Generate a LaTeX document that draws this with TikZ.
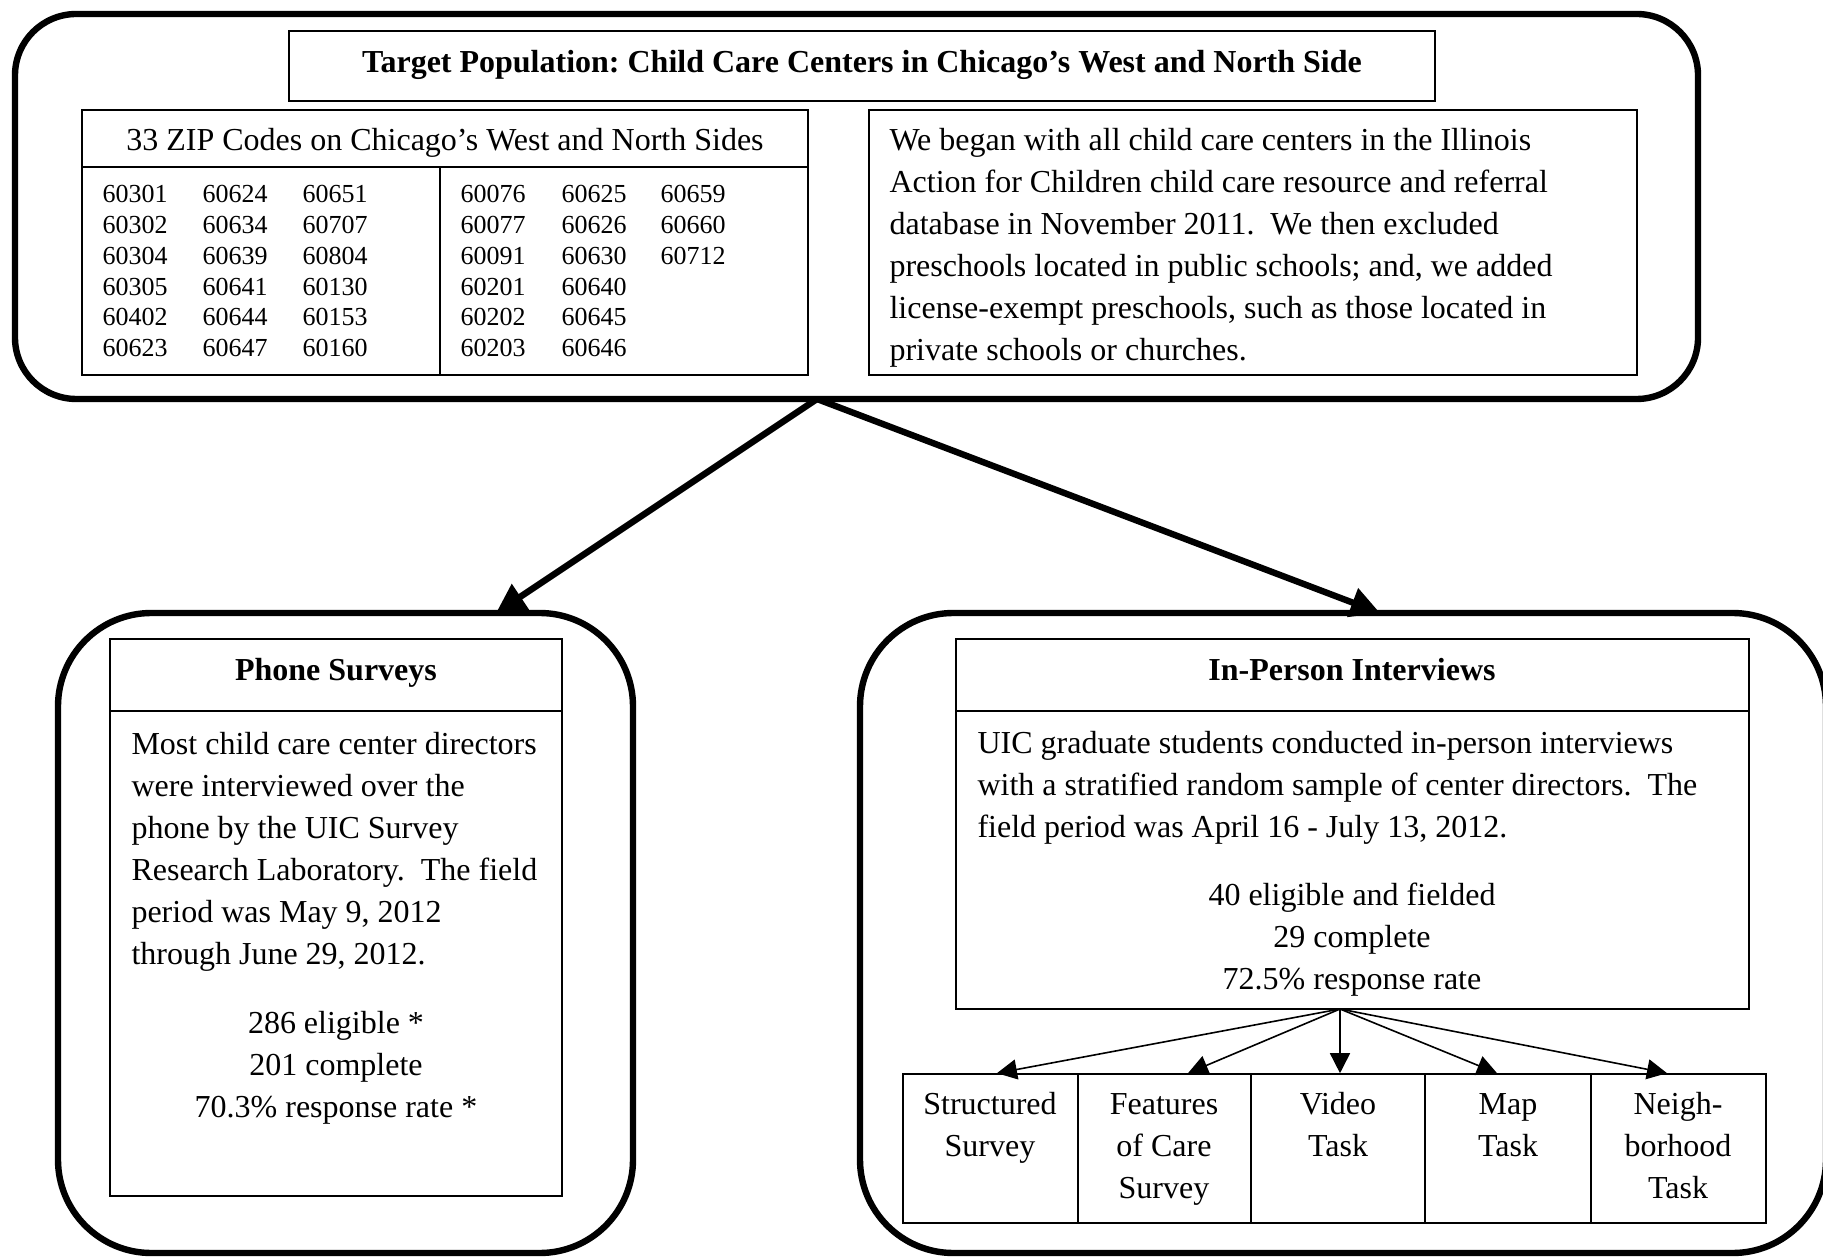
\documentclass[tikz,border=0pt]{standalone}
\usepackage{fontspec}
\setmainfont{Liberation Serif}
\usetikzlibrary{arrows.meta,fit}
\frenchspacing

\begin{document}
\begin{tikzpicture}[x=0.375pt,y=-0.375pt]

\tikzset{
  framebox/.style={draw,line width=2.4pt,inner sep=0pt},
  thinbox/.style={draw,line width=0.6pt,inner sep=0pt},
  thinline/.style={line width=0.6pt},
  bodytext/.style={inner sep=0pt,font=\fontsize{12}{15.75}\selectfont},
  boldtext/.style={inner sep=0pt,anchor=base,font=\fontsize{12}{15.75}\selectfont\bfseries},
  zipcode/.style={inner sep=0pt,anchor=base west,font=\fontsize{9.75}{11.5}\selectfont},
  bigarrow/.style={line width=2.4pt,-{Triangle[length=11pt,width=11pt]}},
  smallarrow/.style={line width=0.6pt,-{Triangle[length=7.5pt,width=7.5pt]}}
}

\useasboundingbox (0,0) rectangle (1823,1257);
\fill[white] (0,0) rectangle (1823,1257);
\clip (0,0) rectangle (1823,1257);

% (multi-line nodes: base = last line)

%target population frame
\node[framebox,rounded corners=23pt,fit={(15,14) (1698,399)}] (topframe) {};
%title
\node[thinbox,fit={(289,31) (1435,101)}] (titlebox) {};
\node[boldtext] (targettitle) at (862,73) {Target Population: Child Care Centers in Chicago’s West and North Side};
%zip codes
\node[thinbox,fit={(82,110) (808,375)}] (zipbox) {};
\draw[thinline] (82,167) -- (808,167);
\draw[thinline] (440,167) -- (440,375);
\node[bodytext,anchor=base] (ziptitle) at (445,151) {33 ZIP Codes on Chicago’s West and North Sides};
\foreach \code [count=\i from 0] in {60301,60302,60304,60305,60402,60623}
  \node[zipcode] (zipa\i) at (102,{203+30.7*\i}) {\code};
\foreach \code [count=\i from 0] in {60624,60634,60639,60641,60644,60647}
  \node[zipcode] (zipb\i) at (202,{203+30.7*\i}) {\code};
\foreach \code [count=\i from 0] in {60651,60707,60804,60130,60153,60160}
  \node[zipcode] (zipc\i) at (302,{203+30.7*\i}) {\code};
\foreach \code [count=\i from 0] in {60076,60077,60091,60201,60202,60203}
  \node[zipcode] (zipd\i) at (460,{203+30.7*\i}) {\code};
\foreach \code [count=\i from 0] in {60625,60626,60630,60640,60645,60646}
  \node[zipcode] (zipe\i) at (561,{203+30.7*\i}) {\code};
\foreach \code [count=\i from 0] in {60659,60660,60712}
  \node[zipcode] (zipf\i) at (660,{203+30.7*\i}) {\code};
%how the centers were chosen
\node[thinbox,fit={(869,110) (1637,375)}] (beganbox) {};
\node[bodytext,anchor=base west,align=left] (begantext) at (889,361) {We began with all child care centers in the Illinois\\
Action for Children child care resource and referral\\
database in November 2011.\ \ We then excluded\\
preschools located in public schools; and, we added\\
license-exempt preschools, such as those located in\\
private schools or churches.};

%phone surveys
\node[framebox,rounded corners=35pt,fit={(58,613) (633,1253)}] (phoneframe) {};
\node[thinbox,fit={(110,639) (562,1196)}] (phone) {};
\draw[thinline] (110,711) -- (562,711);
\node[boldtext] (phonetitle) at (336,681) {Phone Surveys};
\node[bodytext,anchor=base west,align=left] (phonetext) at (131,964) {Most child care center directors\\
were interviewed over the\\
phone by the UIC Survey\\
Research Laboratory.\ \ The field\\
period was May 9, 2012\\
through June 29, 2012.};
\node[bodytext,anchor=base,align=center] (phonestats) at (336,1117) {286 eligible *\\201 complete\\70.3\% response rate *};

%in-person interviews
\node[framebox,rounded corners=35pt,fit={(860,613) (1826,1253)}] (inpersonframe) {};
\node[thinbox,fit={(956,639) (1749,1009)}] (inperson) {};
\draw[thinline] (956,711) -- (1749,711);
\node[boldtext] (inpersontitle) at (1352,681) {In-Person Interviews};
\node[bodytext,anchor=base west,align=left] (inpersontext) at (977,837) {UIC graduate students conducted in-person interviews\\
with a stratified random sample of center directors.\ \ The\\
field period was April 16 - July 13, 2012.};
\node[bodytext,anchor=base,align=center] (inpersonstats) at (1352,989) {40 eligible and fielded\\29 complete\\72.5\% response rate};

%tasks
\node[thinbox,fit={(903,1074) (1078,1223)}] (t1) {};
\node[thinbox,fit={(1078,1074) (1251,1223)}] (t2) {};
\node[thinbox,fit={(1251,1074) (1425,1223)}] (t3) {};
\node[thinbox,fit={(1425,1074) (1591,1223)}] (t4) {};
\node[thinbox,fit={(1591,1074) (1766,1223)}] (t5) {};
\node[bodytext,anchor=base,align=center] (t1text) at (990,1156) {Structured\\Survey};
\node[bodytext,anchor=base,align=center] (t2text) at (1164,1198) {Features\\of Care\\Survey};
\node[bodytext,anchor=base,align=center] (t3text) at (1338,1156) {Video\\Task};
\node[bodytext,anchor=base,align=center] (t4text) at (1508,1156) {Map\\Task};
\node[bodytext,anchor=base,align=center] (t5text) at (1678,1198) {Neigh-\\borhood\\Task};

%arrows top -> methods
\coordinate (fork) at (817,399);
\coordinate (phonein) at (496,613);
\coordinate (inpersonin) at (1380,613);
\draw[bigarrow] (fork) -- (phonein);
\draw[bigarrow] (fork) -- (inpersonin);

%arrows interviews -> tasks
\coordinate (fan) at (1340,1009);
\foreach \t/\dx in {t1/2.4pt,t2/8.8pt,t3/0.75pt,t4/-4.1pt,t5/-4.3pt}
  \draw[smallarrow] (fan) -- ([xshift=\dx]\t.north);

\end{tikzpicture}
\end{document}
